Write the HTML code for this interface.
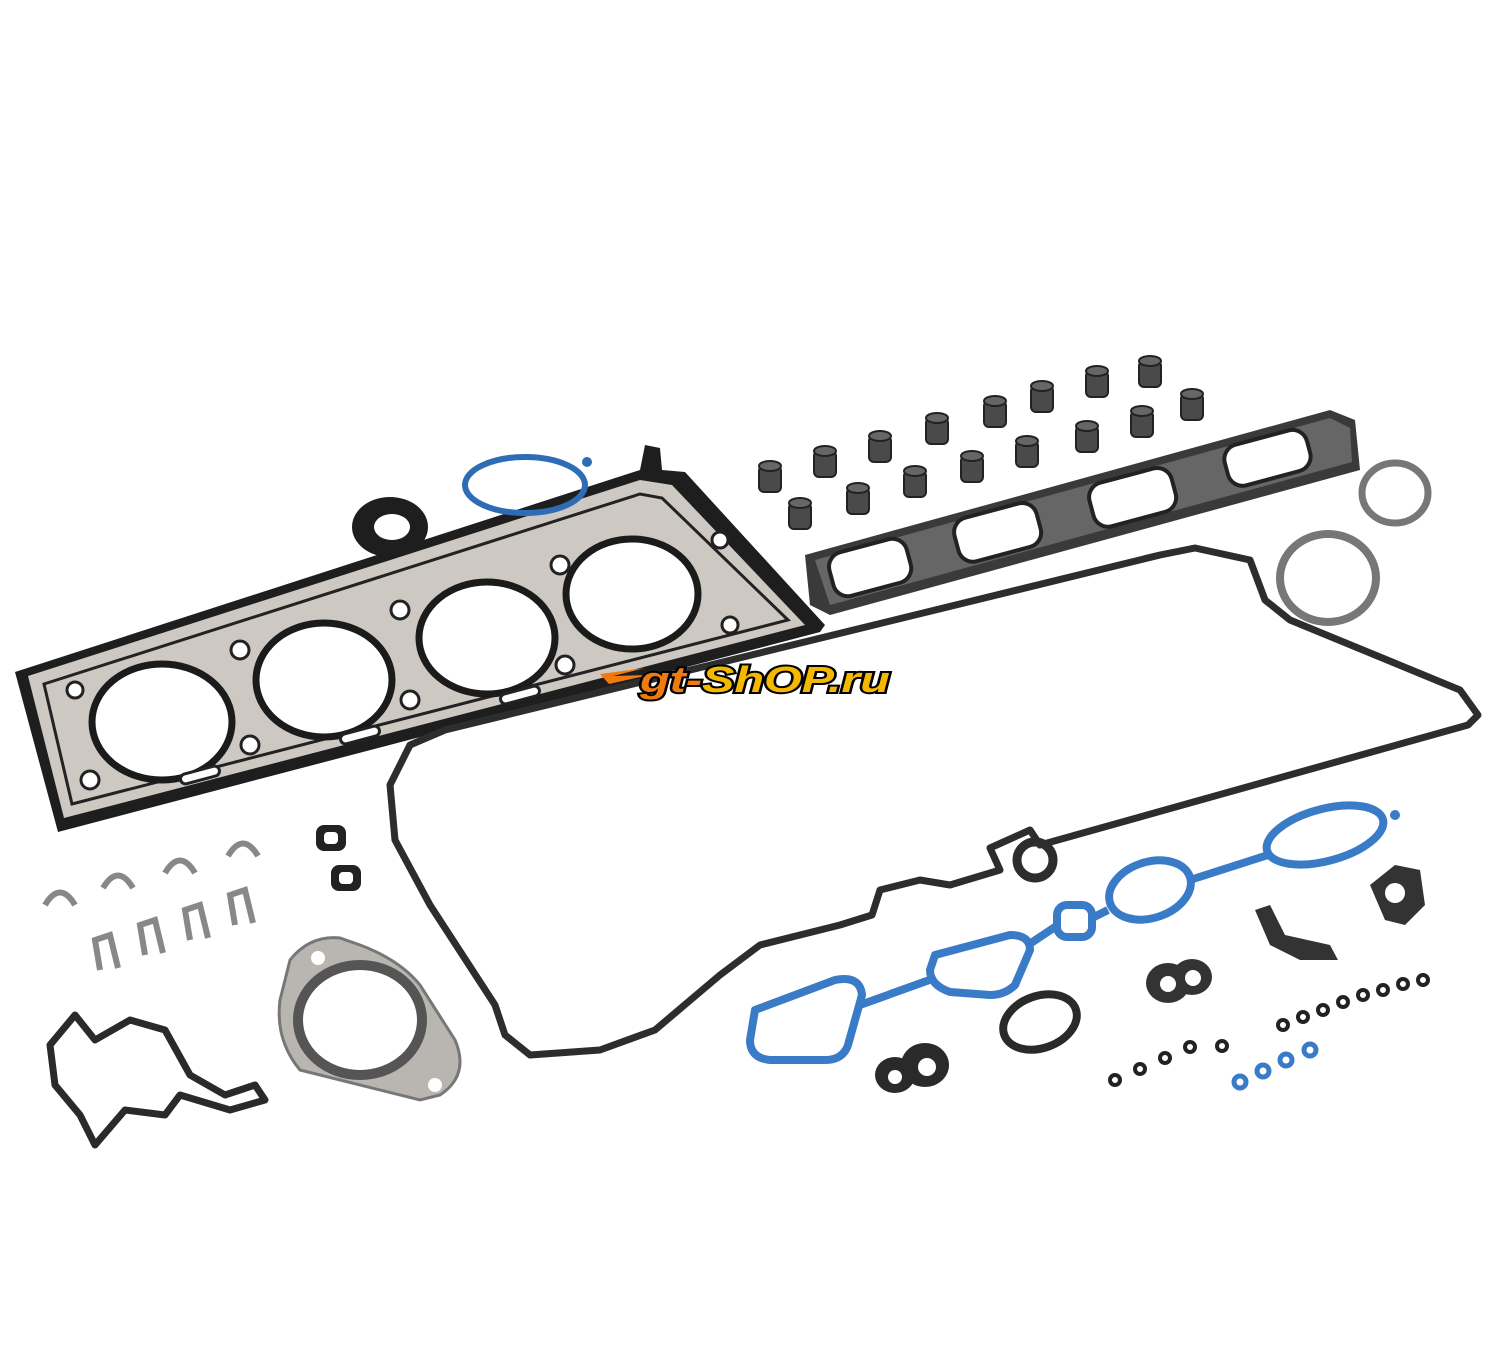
<!DOCTYPE html>
<html><head><style>html,body{margin:0;padding:0;background:#fff}svg{display:block}</style></head>
<body>
<svg width="1500" height="1350" viewBox="0 0 1500 1350" xmlns="http://www.w3.org/2000/svg">
<defs>
<g id="vs"><rect x="-11" y="-14" width="22" height="26" rx="5" fill="#4a4a4a" stroke="#222" stroke-width="2"/><ellipse cx="0" cy="-14" rx="11" ry="5" fill="#666" stroke="#222" stroke-width="2"/></g>
</defs>
<rect width="1500" height="1350" fill="#fff"/>
<!-- head gasket -->
<g>
<polygon points="15,672 640,470 645,445 660,448 662,470 685,472 825,625 820,632 58,832" fill="#1e1e1e"/>
<polygon points="28,676 640,480 672,485 805,625 64,818" fill="#cdc8c2"/>
<polygon points="44,684 640,494 662,498 788,620 72,804" fill="none" stroke="#222" stroke-width="3"/>
<g fill="#fff" stroke="#1b1b1b" stroke-width="7">
<ellipse cx="162" cy="722" rx="70" ry="58"/>
<ellipse cx="324" cy="680" rx="68" ry="57"/>
<ellipse cx="487" cy="638" rx="68" ry="56"/>
<ellipse cx="632" cy="594" rx="66" ry="55"/>
</g>
<g fill="#fff" stroke="#222" stroke-width="3">
<circle cx="75" cy="690" r="8"/><circle cx="90" cy="780" r="9"/><circle cx="240" cy="650" r="9"/><circle cx="250" cy="745" r="9"/>
<circle cx="400" cy="610" r="9"/><circle cx="410" cy="700" r="9"/><circle cx="560" cy="565" r="9"/><circle cx="565" cy="665" r="9"/>
<circle cx="720" cy="540" r="8"/><circle cx="730" cy="625" r="8"/>
<rect x="180" y="770" width="40" height="10" rx="5" transform="rotate(-15 200 775)"/>
<rect x="340" y="730" width="40" height="10" rx="5" transform="rotate(-15 360 735)"/>
<rect x="500" y="690" width="40" height="10" rx="5" transform="rotate(-15 520 695)"/>
</g>
</g>
<!-- valve cover gasket -->
<path d="M390,785 L410,745 L445,730 L1160,555 L1195,548 L1250,560 L1265,600 L1290,620 L1460,690 L1478,715 L1468,725 L1040,845 L1030,830 L990,848 L1000,870 L950,885 L920,880 L880,890 L872,915 L840,925 L760,945 L720,975 L655,1030 L600,1050 L530,1055 L505,1035 L495,1005 L430,905 L395,840 Z" fill="none" stroke="#2d2d2d" stroke-width="7" stroke-linejoin="round"/>
<circle cx="1035" cy="860" r="18" fill="none" stroke="#2d2d2d" stroke-width="9"/>
<!-- logo -->
<path d="M600,674 l45,-6 l-32,8 l36,-1 l-40,9 z" fill="#f07a10"/>
<text x="640" y="692" font-family="Liberation Sans, sans-serif" font-weight="bold" font-style="italic" font-size="36" stroke="#000" stroke-width="4" paint-order="stroke" textLength="250" lengthAdjust="spacingAndGlyphs"><tspan fill="#f07a10">gt-</tspan><tspan fill="#f5b800">ShOP.ru</tspan></text>
<!-- exhaust manifold gasket -->
<g>
<polygon points="805,555 1330,410 1355,420 1360,470 830,615 810,605" fill="#3a3a3a"/>
<polygon points="815,560 1330,418 1350,428 1352,462 830,605" fill="#666"/>
<g fill="#fff" stroke="#222" stroke-width="4">
<rect x="830" y="545" width="80" height="45" rx="15" transform="rotate(-15 870 567)"/>
<rect x="955" y="510" width="85" height="45" rx="15" transform="rotate(-15 997 532)"/>
<rect x="1090" y="475" width="85" height="45" rx="15" transform="rotate(-15 1132 497)"/>
<rect x="1225" y="437" width="85" height="42" rx="15" transform="rotate(-15 1267 458)"/>
</g>
</g>
<!-- rings -->
<ellipse cx="1395" cy="493" rx="33" ry="30" fill="none" stroke="#777" stroke-width="7"/>
<ellipse cx="1328" cy="578" rx="48" ry="44" fill="none" stroke="#777" stroke-width="8"/>
<ellipse cx="525" cy="485" rx="60" ry="28" fill="none" stroke="#2e6db5" stroke-width="6"/>
<circle cx="587" cy="462" r="5" fill="#2e6db5"/>
<!-- seal -->
<ellipse cx="390" cy="527" rx="38" ry="30" fill="#1e1e1e"/>
<ellipse cx="392" cy="527" rx="18" ry="13" fill="#fff"/>
<!-- valve stem seals -->
<use href="#vs" x="770" y="480"/><use href="#vs" x="825" y="465"/><use href="#vs" x="880" y="450"/><use href="#vs" x="937" y="432"/>
<use href="#vs" x="995" y="415"/><use href="#vs" x="1042" y="400"/><use href="#vs" x="1097" y="385"/><use href="#vs" x="1150" y="375"/>
<use href="#vs" x="1192" y="408"/><use href="#vs" x="1142" y="425"/><use href="#vs" x="1087" y="440"/><use href="#vs" x="1027" y="455"/>
<use href="#vs" x="972" y="470"/><use href="#vs" x="915" y="485"/><use href="#vs" x="858" y="502"/><use href="#vs" x="800" y="517"/>
<!-- intake gasket blue -->
<g fill="none" stroke="#3a7bc8" stroke-width="8" stroke-linejoin="round">
<path d="M755,1010 L835,980 Q860,975 862,995 L848,1045 Q843,1060 825,1060 L770,1060 Q750,1058 750,1040 Z"/>
<path d="M935,955 L1010,935 Q1030,935 1030,950 L1015,985 Q1005,995 990,995 L950,992 Q930,985 930,970 Z"/>
<rect x="1057" y="905" width="35" height="32" rx="10"/>
<ellipse cx="1150" cy="890" rx="42" ry="28" transform="rotate(-18 1150 890)"/>
<ellipse cx="1325" cy="835" rx="60" ry="26" transform="rotate(-15 1325 835)"/>
<path d="M860,1005 L935,978 M1028,945 L1058,925 M1092,918 L1108,910 M1190,880 L1268,855"/>
</g>
<circle cx="1395" cy="815" r="5" fill="#3a7bc8"/>
<!-- misc black parts -->
<ellipse cx="1040" cy="1022" rx="38" ry="26" fill="none" stroke="#2a2a2a" stroke-width="8" transform="rotate(-20 1040 1022)"/>
<g fill="#333"><ellipse cx="1168" cy="983" rx="22" ry="20"/><ellipse cx="1192" cy="977" rx="20" ry="18"/></g>
<g fill="#fff"><circle cx="1168" cy="984" r="8"/><circle cx="1193" cy="978" r="8"/></g>
<g fill="#2a2a2a"><ellipse cx="895" cy="1075" rx="20" ry="18"/><ellipse cx="925" cy="1065" rx="24" ry="22"/></g>
<g fill="#fff"><circle cx="895" cy="1077" r="7"/><circle cx="927" cy="1067" r="9"/></g>
<path d="M1255,910 L1270,905 L1285,935 L1330,945 L1338,960 L1300,960 L1270,945 Z" fill="#333"/>
<path d="M1370,885 L1395,865 L1420,870 L1425,905 L1405,925 L1385,920 Z" fill="#333"/>
<circle cx="1395" cy="893" r="10" fill="#fff"/>
<!-- o-rings -->
<g fill="none" stroke="#222" stroke-width="4">
<circle cx="1115" cy="1080" r="5"/><circle cx="1140" cy="1069" r="5"/><circle cx="1165" cy="1058" r="5"/><circle cx="1190" cy="1047" r="5"/><circle cx="1222" cy="1046" r="5"/>
<circle cx="1283" cy="1025" r="5"/><circle cx="1303" cy="1017" r="5"/><circle cx="1323" cy="1010" r="5"/><circle cx="1343" cy="1002" r="5"/>
<circle cx="1363" cy="995" r="5"/><circle cx="1383" cy="990" r="5"/><circle cx="1403" cy="984" r="5"/><circle cx="1423" cy="980" r="5"/>
</g>
<g fill="none" stroke="#3a7bc8" stroke-width="5">
<circle cx="1240" cy="1082" r="6"/><circle cx="1263" cy="1071" r="6"/><circle cx="1286" cy="1060" r="6"/><circle cx="1310" cy="1050" r="6"/>
</g>
<!-- left small parts -->
<g fill="#222"><rect x="316" y="825" width="30" height="26" rx="8"/><rect x="331" y="865" width="30" height="26" rx="8"/></g>
<g fill="#fff"><rect x="324" y="832" width="14" height="12" rx="4"/><rect x="339" y="872" width="14" height="12" rx="4"/></g>
<g fill="none" stroke="#888" stroke-width="6">
<path d="M45,905 Q60,880 75,905"/><path d="M103,888 Q118,863 133,888"/><path d="M165,873 Q180,848 195,873"/><path d="M228,856 Q243,831 258,856"/>
<path d="M100,970 L95,940 L110,935 L118,968"/><path d="M145,955 L140,925 L155,920 L163,953"/><path d="M190,940 L185,910 L200,905 L208,938"/><path d="M235,925 L230,895 L245,890 L253,923"/>
</g>
<!-- exhaust flange -->
<path d="M290,960 Q310,935 340,938 L360,945 Q400,960 420,985 L455,1040 Q470,1075 440,1095 L420,1100 L300,1070 Q275,1040 280,1000 Z" fill="#b9b6b2" stroke="#777" stroke-width="3"/>
<ellipse cx="360" cy="1020" rx="62" ry="55" fill="#fff" stroke="#555" stroke-width="10"/>
<circle cx="318" cy="958" r="7" fill="#fff"/><circle cx="435" cy="1085" r="7" fill="#fff"/>
<!-- bracket gasket -->
<path d="M50,1045 L75,1015 L95,1040 L130,1020 L165,1030 L190,1075 L225,1095 L255,1085 L265,1100 L230,1110 L180,1095 L165,1115 L125,1110 L95,1145 L80,1115 L55,1085 Z" fill="none" stroke="#2a2a2a" stroke-width="7" stroke-linejoin="round"/>
</svg>
</body></html>
